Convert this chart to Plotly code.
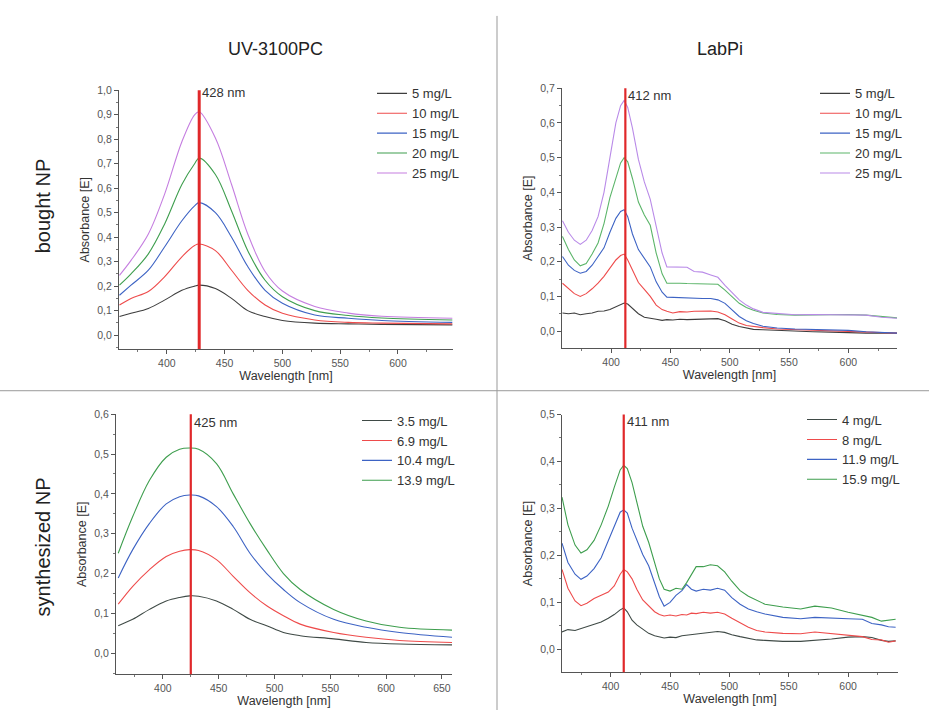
import plotly.graph_objects as go

# ---------------- data ----------------
# Top-left: UV-3100PC, bought NP
wl_uv_b = [359, 369, 384, 398, 413, 424, 428, 442, 456, 470, 485, 500, 528, 557, 586, 647]
uv_b_5 = [0.076, 0.089, 0.109, 0.143, 0.183, 0.200, 0.204, 0.190, 0.150, 0.100, 0.076, 0.060, 0.049, 0.046, 0.044, 0.042]
uv_b_10 = [0.123, 0.150, 0.178, 0.238, 0.320, 0.366, 0.372, 0.345, 0.265, 0.183, 0.123, 0.089, 0.062, 0.052, 0.049, 0.046]
uv_b_15 = [0.163, 0.204, 0.265, 0.360, 0.467, 0.528, 0.541, 0.500, 0.400, 0.280, 0.183, 0.130, 0.082, 0.069, 0.060, 0.052]
uv_b_20 = [0.204, 0.250, 0.332, 0.453, 0.615, 0.700, 0.723, 0.656, 0.507, 0.345, 0.224, 0.157, 0.100, 0.080, 0.070, 0.062]
uv_b_25 = [0.244, 0.305, 0.413, 0.575, 0.790, 0.900, 0.912, 0.805, 0.615, 0.413, 0.260, 0.180, 0.117, 0.090, 0.077, 0.069]
uv_b_labels = ["5 mg/L", "10 mg/L", "15 mg/L", "20 mg/L", "25 mg/L"]

# Top-right: LabPi, bought NP
wl_lp_b = [359, 364, 369, 374, 379, 384, 389, 394, 399, 404,
           408, 411, 414, 418, 423, 428, 433, 438, 443, 447,
           452, 458, 464, 470, 477, 484, 490, 496, 502, 508,
           514, 520, 528, 540, 555, 570, 585, 600, 615, 628,
           641]
lp_b_5 = [0.052, 0.050, 0.052, 0.047, 0.050, 0.052, 0.057, 0.058, 0.062, 0.070,
          0.078, 0.081, 0.078, 0.066, 0.050, 0.040, 0.036, 0.034, 0.031, 0.033,
          0.032, 0.034, 0.033, 0.034, 0.035, 0.037, 0.036, 0.030, 0.020, 0.013,
          0.008, 0.005, 0.004, 0.002, -0.001, -0.002, -0.003, -0.005, -0.006, -0.006,
          -0.006]
lp_b_10 = [0.138, 0.122, 0.108, 0.100, 0.108, 0.122, 0.138, 0.158, 0.180, 0.205,
           0.218, 0.222, 0.205, 0.175, 0.140, 0.120, 0.100, 0.075, 0.062, 0.057,
           0.052, 0.056, 0.055, 0.057, 0.058, 0.058, 0.055, 0.047, 0.035, 0.023,
           0.016, 0.013, 0.010, 0.006, 0.004, 0.003, 0.001, -0.001, -0.003, -0.005,
           -0.006]
lp_b_15 = [0.215, 0.190, 0.175, 0.167, 0.172, 0.190, 0.215, 0.240, 0.285, 0.325,
           0.345, 0.350, 0.330, 0.280, 0.235, 0.210, 0.185, 0.142, 0.112, 0.098,
           0.097, 0.096, 0.095, 0.095, 0.094, 0.094, 0.090, 0.080, 0.062, 0.042,
           0.030, 0.022, 0.014, 0.009, 0.006, 0.005, 0.004, 0.002, -0.002, -0.005,
           -0.006]
lp_b_20 = [0.273, 0.235, 0.205, 0.188, 0.195, 0.222, 0.254, 0.310, 0.385, 0.445,
           0.485, 0.500, 0.488, 0.440, 0.372, 0.335, 0.305, 0.225, 0.165, 0.138,
           0.137, 0.138, 0.137, 0.137, 0.136, 0.137, 0.135, 0.118, 0.098, 0.080,
           0.068, 0.060, 0.052, 0.048, 0.046, 0.047, 0.047, 0.048, 0.046, 0.041,
           0.038]
lp_b_25 = [0.318, 0.285, 0.262, 0.250, 0.262, 0.290, 0.330, 0.400, 0.500, 0.600,
           0.650, 0.665, 0.645, 0.585, 0.495, 0.430, 0.380, 0.300, 0.225, 0.185,
           0.185, 0.186, 0.184, 0.172, 0.170, 0.162, 0.155, 0.132, 0.110, 0.090,
           0.075, 0.064, 0.054, 0.050, 0.047, 0.048, 0.047, 0.048, 0.046, 0.040,
           0.037]
lp_b_labels = ["5 mg/L", "10 mg/L", "15 mg/L", "20 mg/L", "25 mg/L"]

# Bottom-left: UV-3100PC, synthesized NP
wl_uv_s = [360, 373, 388, 403, 415, 424, 432, 448, 463, 478, 493, 508, 523, 553, 582, 612, 659]
uv_s_1 = [0.069, 0.085, 0.110, 0.131, 0.140, 0.144, 0.143, 0.131, 0.110, 0.085, 0.069, 0.052, 0.044, 0.036, 0.027, 0.023, 0.021]
uv_s_2 = [0.123, 0.168, 0.210, 0.243, 0.256, 0.260, 0.258, 0.235, 0.193, 0.152, 0.119, 0.094, 0.073, 0.052, 0.040, 0.032, 0.027]
uv_s_3 = [0.189, 0.260, 0.326, 0.375, 0.393, 0.397, 0.395, 0.368, 0.318, 0.251, 0.200, 0.160, 0.127, 0.085, 0.065, 0.052, 0.040]
uv_s_4 = [0.251, 0.343, 0.434, 0.492, 0.512, 0.515, 0.512, 0.476, 0.400, 0.326, 0.260, 0.200, 0.160, 0.110, 0.081, 0.065, 0.058]
uv_s_labels = ["3.5 mg/L", "6.9 mg/L", "10.4 mg/L", "13.9 mg/L"]

# Bottom-right: LabPi, synthesized NP
wl_lp_s = [359, 364, 370, 375, 380, 386, 392, 398, 403, 408,
           411, 414, 418, 422, 427, 432, 437, 441, 445, 450,
           455, 460, 464, 468, 472, 478, 484, 490, 496, 502,
           509, 516, 523, 530, 545, 560, 572, 586, 600, 612,
           620, 628, 634, 640]
lp_s_1 = [0.037, 0.042, 0.040, 0.044, 0.047, 0.052, 0.058, 0.066, 0.074, 0.084,
          0.088, 0.080, 0.062, 0.052, 0.042, 0.034, 0.029, 0.027, 0.024, 0.026,
          0.025, 0.029, 0.030, 0.031, 0.033, 0.034, 0.036, 0.038, 0.036, 0.031,
          0.027, 0.023, 0.020, 0.019, 0.017, 0.017, 0.019, 0.022, 0.026, 0.027,
          0.025, 0.019, 0.017, 0.018]
lp_s_2 = [0.170, 0.130, 0.103, 0.093, 0.098, 0.108, 0.115, 0.122, 0.135, 0.160,
          0.170, 0.165, 0.150, 0.128, 0.105, 0.092, 0.080, 0.074, 0.071, 0.073,
          0.071, 0.074, 0.073, 0.077, 0.076, 0.079, 0.077, 0.079, 0.075, 0.066,
          0.056, 0.047, 0.040, 0.037, 0.034, 0.033, 0.037, 0.033, 0.029, 0.027,
          0.021, 0.020, 0.015, 0.018]
lp_s_3 = [0.226, 0.185, 0.160, 0.149, 0.156, 0.172, 0.195, 0.230, 0.262, 0.292,
          0.297, 0.290, 0.258, 0.232, 0.202, 0.178, 0.142, 0.112, 0.092, 0.100,
          0.115, 0.125, 0.138, 0.128, 0.124, 0.128, 0.126, 0.130, 0.126, 0.110,
          0.096, 0.086, 0.080, 0.075, 0.068, 0.065, 0.068, 0.066, 0.065, 0.064,
          0.055, 0.052, 0.048, 0.047]
lp_s_4 = [0.324, 0.265, 0.222, 0.205, 0.212, 0.232, 0.265, 0.305, 0.345, 0.382,
          0.392, 0.385, 0.355, 0.312, 0.262, 0.228, 0.184, 0.150, 0.128, 0.124,
          0.130, 0.128, 0.142, 0.160, 0.176, 0.176, 0.180, 0.178, 0.165, 0.145,
          0.125, 0.113, 0.104, 0.096, 0.090, 0.086, 0.092, 0.088, 0.079, 0.073,
          0.068, 0.060, 0.062, 0.064]
lp_s_labels = ["4 mg/L", "8 mg/L", "11.9 mg/L", "15.9 mg/L"]

peak_wl = [428, 412, 425, 411]
peak_labels = ["428 nm", "412 nm", "425 nm", "411 nm"]

col_titles = ["UV-3100PC", "LabPi"]
row_titles = ["bought NP", "synthesized NP"]

x_tickvals_a = [400, 450, 500, 550, 600]
x_tickvals_b = [400, 450, 500, 550, 600, 650]
y_tl_vals = [0.0, 0.1, 0.2, 0.3, 0.4, 0.5, 0.6, 0.7, 0.8, 0.9, 1.0]
y_tl_text = ["0,0", "0,1", "0,2", "0,3", "0,4", "0,5", "0,6", "0,7", "0,8", "0,9", "1,0"]
y_tr_vals = [0.0, 0.1, 0.2, 0.3, 0.4, 0.5, 0.6, 0.7]
y_tr_text = ["0,0", "0,1", "0,2", "0,3", "0,4", "0,5", "0,6", "0,7"]
y_bl_vals = [0.0, 0.1, 0.2, 0.3, 0.4, 0.5, 0.6]
y_bl_text = ["0,0", "0,1", "0,2", "0,3", "0,4", "0,5", "0,6"]
y_br_vals = [0.0, 0.1, 0.2, 0.3, 0.4, 0.5]
y_br_text = ["0,0", "0,1", "0,2", "0,3", "0,4", "0,5"]

# ---------------- styling ----------------
FONT = "Liberation Sans, Arial, sans-serif"
C_DARK = "#3e3e3e"
C_DARK2 = "#3f4a46"
C_RED = "#ee4b4b"
C_BLUE = "#3d63c4"
C_GREEN = "#3e9e4e"
C_VIOLET = "#c57ee0"
C_GREEN_L = "#5cb56a"
C_VIOLET_L = "#b98ae8"
C_MARK = "#e0282a"

fig = go.Figure()

panels = [
    dict(xa="x", ya="y", legend="legend", wl=wl_uv_b,
         series=[uv_b_5, uv_b_10, uv_b_15, uv_b_20, uv_b_25], labels=uv_b_labels,
         colors=[C_DARK, C_RED, C_BLUE, C_GREEN, C_VIOLET], shape="spline"),
    dict(xa="x2", ya="y2", legend="legend2", wl=wl_lp_b,
         series=[lp_b_5, lp_b_10, lp_b_15, lp_b_20, lp_b_25], labels=lp_b_labels,
         colors=[C_DARK, C_RED, C_BLUE, C_GREEN_L, C_VIOLET_L], shape="linear"),
    dict(xa="x3", ya="y3", legend="legend3", wl=wl_uv_s,
         series=[uv_s_1, uv_s_2, uv_s_3, uv_s_4], labels=uv_s_labels,
         colors=[C_DARK2, C_RED, C_BLUE, C_GREEN], shape="spline"),
    dict(xa="x4", ya="y4", legend="legend4", wl=wl_lp_s,
         series=[lp_s_1, lp_s_2, lp_s_3, lp_s_4], labels=lp_s_labels,
         colors=[C_DARK2, C_RED, C_BLUE, C_GREEN], shape="linear"),
]

for p in panels:
    for ys, lab, col in zip(p["series"], p["labels"], p["colors"]):
        line = dict(color=col, width=1.1, shape=p["shape"])
        if p["shape"] == "spline":
            line["smoothing"] = 1.0
        fig.add_trace(go.Scatter(x=p["wl"], y=ys, mode="lines", name=lab,
                                 line=line, xaxis=p["xa"], yaxis=p["ya"],
                                 legend=p["legend"], showlegend=True))

W, H = 929, 710


def px_dom_x(a, b):
    return [a / W, b / W]


def px_dom_y(top, bottom):
    return [1 - bottom / H, 1 - top / H]


axis_common = dict(showline=True, linecolor="#555", linewidth=1, ticks="outside",
                   ticklen=4, tickcolor="#555", tickwidth=1, showgrid=False,
                   zeroline=False, tickfont=dict(family=FONT, size=10.5, color="#555"),
                   title_font=dict(family=FONT, size=12.5, color="#333"))

x_specs = [
    (px_dom_x(119, 453), [358.6, 647.6], x_tickvals_a, "y"),
    (px_dom_x(562, 897), [358.6, 641.0], x_tickvals_a, "y2"),
    (px_dom_x(116, 452), [358.0, 659.0], x_tickvals_b, "y3"),
    (px_dom_x(562, 898), [359.0, 642.0], x_tickvals_a, "y4"),
]
y_specs = [
    (px_dom_y(85, 346), [-0.057, 1.0], y_tl_vals, y_tl_text, "x"),
    (px_dom_y(83, 345), [-0.049, 0.7], y_tr_vals, y_tr_text, "x2"),
    (px_dom_y(411.7, 674), [-0.053, 0.6], y_bl_vals, y_bl_text, "x3"),
    (px_dom_y(412, 672), [-0.049, 0.5], y_br_vals, y_br_text, "x4"),
]

layout = dict(width=W, height=H, autosize=False, margin=dict(l=0, r=0, t=0, b=0),
              paper_bgcolor="white", plot_bgcolor="white",
              font=dict(family=FONT, color="#333"))

for i, (dom, rng, tv, anchor) in enumerate(x_specs):
    key = "xaxis" if i == 0 else f"xaxis{i+1}"
    layout[key] = dict(axis_common, domain=dom, range=rng, anchor=anchor,
                       tickvals=tv, ticktext=[str(v) for v in tv],
                       title=dict(text="Wavelength [nm]", standoff=0),
                       minor=dict(ticks="outside", ticklen=2, dtick=25, tick0=350,
                                  tickcolor="#777"))
for i, (dom, rng, tv, tt, anchor) in enumerate(y_specs):
    key = "yaxis" if i == 0 else f"yaxis{i+1}"
    layout[key] = dict(axis_common, domain=dom, range=rng, anchor=anchor,
                       tickvals=tv, ticktext=tt,
                       title=dict(text="Absorbance [E]", standoff=4),
                       minor=dict(ticks="outside", ticklen=2, dtick=0.05, tick0=0,
                                  tickcolor="#777"))

legend_pos = [(372, 73), (815, 73), (357, 403), (802, 402)]
for i, (lx, ly) in enumerate(legend_pos):
    key = "legend" if i == 0 else f"legend{i+1}"
    layout[key] = dict(x=lx / W, y=1 - ly / H, xanchor="left", yanchor="top",
                       bgcolor="rgba(0,0,0,0)", borderwidth=0,
                       font=dict(family=FONT, size=13, color="#333"),
                       tracegroupgap=0, itemwidth=30)

fig.update_layout(**layout)

# peak marker lines + labels
label_ypos = [0.992, 0.973, 0.970, 0.972]
for i, (wl, lab) in enumerate(zip(peak_wl, peak_labels)):
    xr = "x" if i == 0 else f"x{i+1}"
    yr = "y" if i == 0 else f"y{i+1}"
    fig.add_shape(type="line", xref=xr, yref=f"{yr} domain", x0=wl, x1=wl, y0=0, y1=1,
                  line=dict(color=C_MARK, width=3 if i == 0 else 2.2))
    fig.add_annotation(xref=xr, yref=f"{yr} domain", x=wl, y=label_ypos[i], text=lab,
                       showarrow=False, xanchor="left", yanchor="middle", xshift=1,
                       font=dict(family=FONT, size=13, color="#333"))

# column & row titles
title_specs = [
    (col_titles[0], 275, 43, 0, 18),
    (col_titles[1], 720, 43, 0, 18),
    (row_titles[0], 43, 202, -90, 20),
    (row_titles[1], 43, 546, -90, 20),
]
for txt, tx, ty, ang, fs in title_specs:
    fig.add_annotation(xref="paper", yref="paper", x=tx / W, y=1 - ty / H, text=txt,
                       textangle=ang, showarrow=False, xanchor="center", yanchor="middle",
                       font=dict(family=FONT, size=fs, color="#222"))

# separators
fig.add_shape(type="line", xref="paper", yref="paper", x0=497 / W, x1=497 / W,
              y0=0, y1=1 - 10 / H, line=dict(color="#999", width=1))
fig.add_shape(type="line", xref="paper", yref="paper", x0=0, x1=1,
              y0=1 - 388 / H, y1=1 - 388 / H, line=dict(color="#999", width=1))

fig.write_html("out.html", config={"displayModeBar": False},
               post_script="document.body.style.margin='0';document.body.style.padding='0';")
